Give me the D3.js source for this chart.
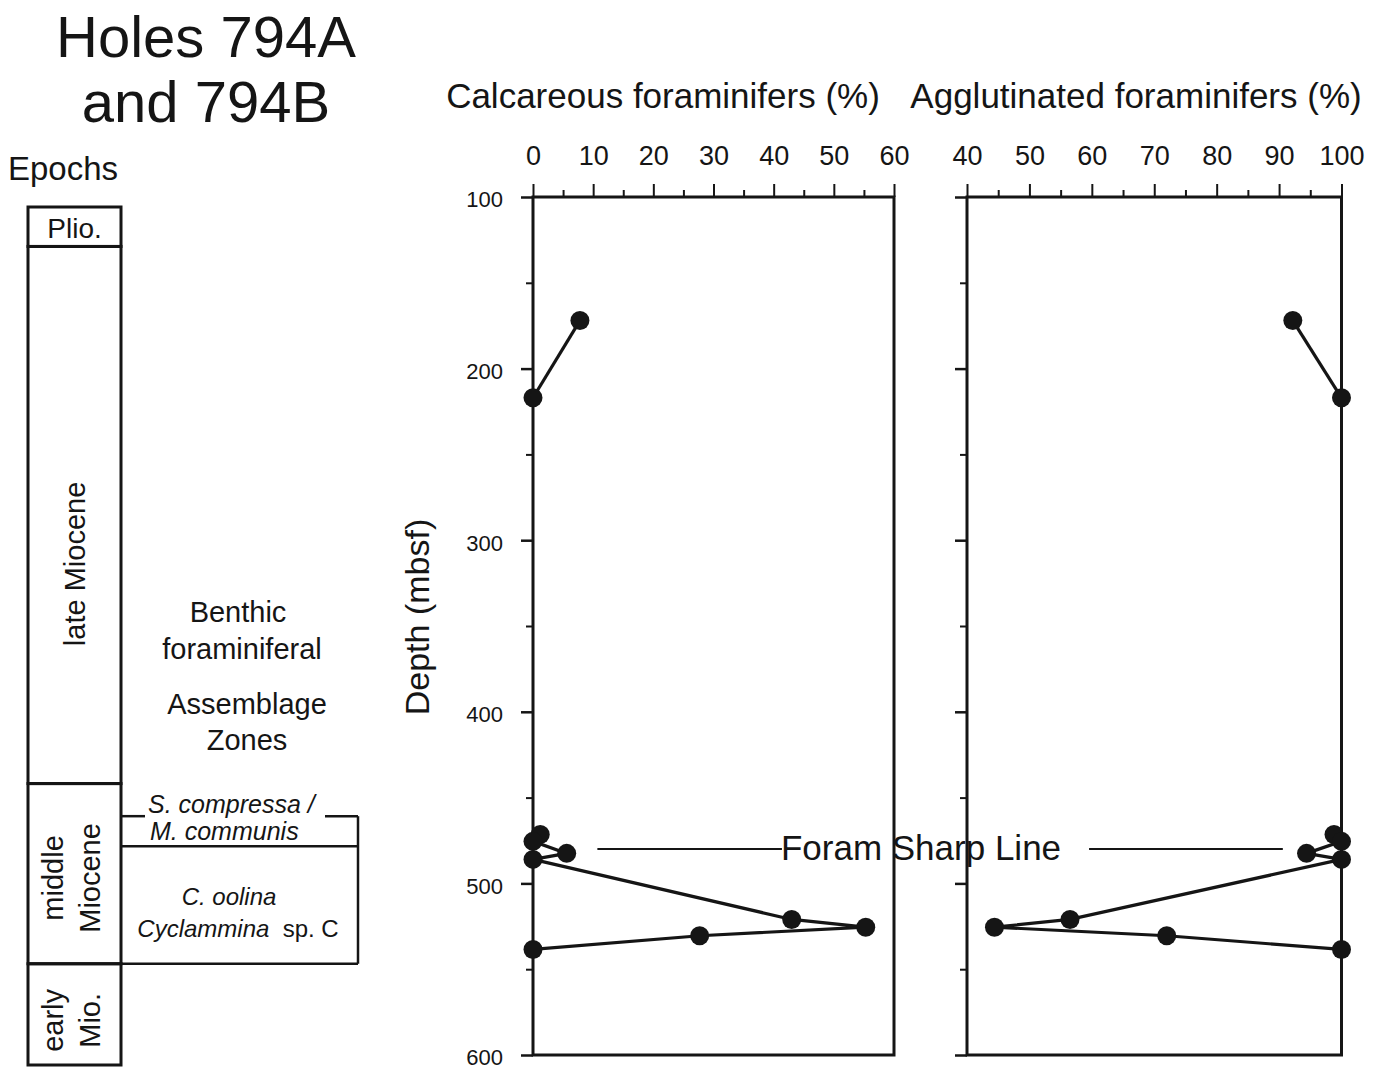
<!DOCTYPE html>
<html>
<head>
<meta charset="utf-8">
<script src="https://cdn.jsdelivr.net/npm/d3@7"></script>
<style>
  html, body { margin: 0; padding: 0; background: #fff; }
  svg text { font-family: "Liberation Sans", Arial, Helvetica, sans-serif; fill: #151515; }
</style>
</head>
<body>
<svg id="chart" width="1383" height="1071"></svg>
<script>
// Sample depths (mbsf) and foraminifer proportions, Holes 794A and 794B
const sampleDepths = [172, 217, 471.5, 475.5, 482.5, 486, 521, 525.5, 530.5, 538.5];
const calcareousPct = [7.8, 0, 1.2, 0, 5.6, 0, 43, 55.3, 27.7, 0];
const agglutinatedPct = [92.2, 100, 98.8, 100, 94.4, 100, 56.5, 44.4, 72, 100];
// continuous sample runs (a gap in sampling separates them)
const sampleRun = [1, 1, 2, 2, 2, 2, 2, 2, 2, 2];

const calcTicks = [0, 10, 20, 30, 40, 50, 60];
const aggTicks = [40, 50, 60, 70, 80, 90, 100];
const depthTicks = [100, 200, 300, 400, 500, 600];

// Epoch column
const epochLines = [["Plio."], ["late Miocene"], ["middle", "Miocene"], ["early", "Mio."]];
const epochTop = [100, 123, 436, 541];
const epochBase = [123, 436, 541, 600];
const epochLabelDepth = [112, 308, 491, 574];

// Benthic foraminiferal assemblage zones
const zoneTop = [455, 472.5];
const zoneBase = [472.5, 541];

const foramSharpLineDepth = 480;

const svg = d3.select("#chart");
const ink = "#151515";

const y = d3.scaleLinear().domain([100, 600]).range([197, 1055]);
const yCol = d3.scaleLinear().domain([100, 600]).range([207, 1065]);
const xCalc = d3.scaleLinear().domain([0, 60]).range([533, 894]);
const xAgg = d3.scaleLinear().domain([40, 100]).range([967, 1341.5]);

// ---- Title block ----
svg.append("text").attr("x", 206).attr("y", 57).attr("text-anchor", "middle")
  .style("font-size", "58px").text("Holes 794A");
svg.append("text").attr("x", 206).attr("y", 122).attr("text-anchor", "middle")
  .style("font-size", "58px").text("and 794B");
svg.append("text").attr("x", 8).attr("y", 180)
  .style("font-size", "33px").text("Epochs");

// ---- Epoch column ----
const colL = 28, colR = 121;
const col = svg.append("g");
epochTop.forEach((t, i) => {
  col.append("rect")
    .attr("x", colL).attr("y", yCol(t))
    .attr("width", colR - colL).attr("height", yCol(epochBase[i]) - yCol(t))
    .attr("fill", "none").attr("stroke", ink).attr("stroke-width", 3);
});
epochLines.forEach((lines, i) => {
  const cy = yCol(epochLabelDepth[i]);
  if (i === 0) {
    col.append("text").attr("x", (colL + colR) / 2).attr("y", cy + 10)
      .attr("text-anchor", "middle").style("font-size", "28px").text(lines[0]);
    return;
  }
  const n = lines.length;
  const bx = n === 1 ? 85 : 100;
  const g = col.append("g").attr("transform", `translate(${bx},${cy}) rotate(-90)`);
  lines.forEach((s, j) => {
    g.append("text").attr("x", 0).attr("y", (j - (n - 1)) * 37)
      .attr("text-anchor", "middle").style("font-size", "29px").text(s);
  });
});

// ---- Zone boxes ----
const zR = 358;
const zg = svg.append("g").attr("stroke", ink).attr("stroke-width", 2.5).attr("fill", "none");
zg.append("line").attr("x1", colR).attr("x2", 145).attr("y1", yCol(zoneTop[0])).attr("y2", yCol(zoneTop[0]));
zg.append("line").attr("x1", 325).attr("x2", zR).attr("y1", yCol(zoneTop[0])).attr("y2", yCol(zoneTop[0]));
zg.append("line").attr("x1", zR).attr("x2", zR).attr("y1", yCol(zoneTop[0])).attr("y2", yCol(zoneBase[1]));
zoneBase.forEach(b => {
  zg.append("line").attr("x1", colR).attr("x2", zR).attr("y1", yCol(b)).attr("y2", yCol(b));
});

svg.append("text").attr("x", 148).attr("y", 813)
  .style("font-size", "25px").style("font-style", "italic").text("S. compressa /");
svg.append("text").attr("x", 150).attr("y", 840)
  .style("font-size", "25px").style("font-style", "italic").text("M. communis");
svg.append("text").attr("x", 229).attr("y", 905).attr("text-anchor", "middle")
  .style("font-size", "24px").style("font-style", "italic").text("C. oolina");
const cyc = svg.append("text").attr("x", 238).attr("y", 937).attr("text-anchor", "middle")
  .style("font-size", "24px");
cyc.append("tspan").style("font-style", "italic").text("Cyclammina");
cyc.append("tspan").text("\u00a0 sp. C");

const benthic = [["Benthic", 238, 622], ["foraminiferal", 242, 659], ["Assemblage", 247, 714], ["Zones", 247, 750]];
benthic.forEach(([s, x, yy]) => {
  svg.append("text").attr("x", x).attr("y", yy).attr("text-anchor", "middle")
    .style("font-size", "29px").text(s);
});

// ---- Panels ----
function panel(xs, ticks, values, showDepthLabels, title, titleX) {
  const g = svg.append("g");
  const [x0, x1] = xs.range();

  // frame
  g.append("rect").attr("x", x0).attr("y", y(100))
    .attr("width", x1 - x0).attr("height", y(600) - y(100))
    .attr("fill", "none").attr("stroke", ink).attr("stroke-width", 3);

  // top axis, major and minor ticks
  const top = g.append("g").attr("transform", `translate(0,${y(100)})`)
    .call(d3.axisTop(xs).tickValues(ticks).tickSize(13).tickPadding(19).tickFormat(d3.format("d")));
  top.select(".domain").remove();
  top.selectAll("line").attr("stroke", ink).attr("stroke-width", 2);
  top.selectAll("text").style("font-size", "27px").attr("fill", ink);

  const minorX = d3.range(ticks[0] + 5, ticks[ticks.length - 1], 10);
  const topMinor = g.append("g").attr("transform", `translate(0,${y(100)})`)
    .call(d3.axisTop(xs).tickValues(minorX).tickSize(7).tickFormat(""));
  topMinor.select(".domain").remove();
  topMinor.selectAll("line").attr("stroke", ink).attr("stroke-width", 2);

  // left depth axis
  const left = g.append("g").attr("transform", `translate(${x0},0)`)
    .call(d3.axisLeft(y).tickValues(depthTicks).tickSize(12).tickPadding(18)
      .tickFormat(showDepthLabels ? d3.format("d") : ""));
  left.select(".domain").remove();
  left.selectAll("line").attr("stroke", ink).attr("stroke-width", 2.5);
  left.selectAll("text").style("font-size", "22px").attr("fill", ink).attr("dy", "0.45em");

  const leftMinor = g.append("g").attr("transform", `translate(${x0},0)`)
    .call(d3.axisLeft(y).tickValues(d3.range(150, 600, 100)).tickSize(7).tickFormat(""));
  leftMinor.select(".domain").remove();
  leftMinor.selectAll("line").attr("stroke", ink).attr("stroke-width", 2);

  // axis title
  g.append("text").attr("x", titleX).attr("y", 108).attr("text-anchor", "middle")
    .style("font-size", "35px").text(title);

  // data: lines per continuous run, then points
  const pts = sampleDepths.map((d, i) => ({ depth: d, v: values[i], run: sampleRun[i] }));
  const line = d3.line().x(d => xs(d.v)).y(d => y(d.depth));
  d3.groups(pts, d => d.run).forEach(([, run]) => {
    g.append("path").datum(run).attr("d", line)
      .attr("fill", "none").attr("stroke", ink).attr("stroke-width", 3.2);
  });
  g.selectAll("circle.pt").data(pts).join("circle").attr("class", "pt")
    .attr("cx", d => xs(d.v)).attr("cy", d => y(d.depth)).attr("r", 9.5).attr("fill", ink);
}

panel(xCalc, calcTicks, calcareousPct, true, "Calcareous foraminifers (%)", 663);
panel(xAgg, aggTicks, agglutinatedPct, false, "Agglutinated foraminifers (%)", 1136);

// depth label
svg.append("text").attr("transform", `translate(429,617) rotate(-90)`)
  .attr("text-anchor", "middle").style("font-size", "34px").text("Depth (mbsf)");

// ---- Foram Sharp Line annotation ----
const fy = y(foramSharpLineDepth);
const label = svg.append("text").attr("x", 921).attr("y", fy + 11).attr("text-anchor", "middle")
  .style("font-size", "35px").text("Foram Sharp Line");
const bb = label.node().getBBox();
svg.append("line").attr("x1", xCalc(10.7)).attr("x2", bb.x + 1).attr("y1", fy).attr("y2", fy)
  .attr("stroke", ink).attr("stroke-width", 2);
svg.append("line").attr("x1", bb.x + bb.width + 28).attr("x2", xAgg(90.6)).attr("y1", fy).attr("y2", fy)
  .attr("stroke", ink).attr("stroke-width", 2);
</script>
</body>
</html>
